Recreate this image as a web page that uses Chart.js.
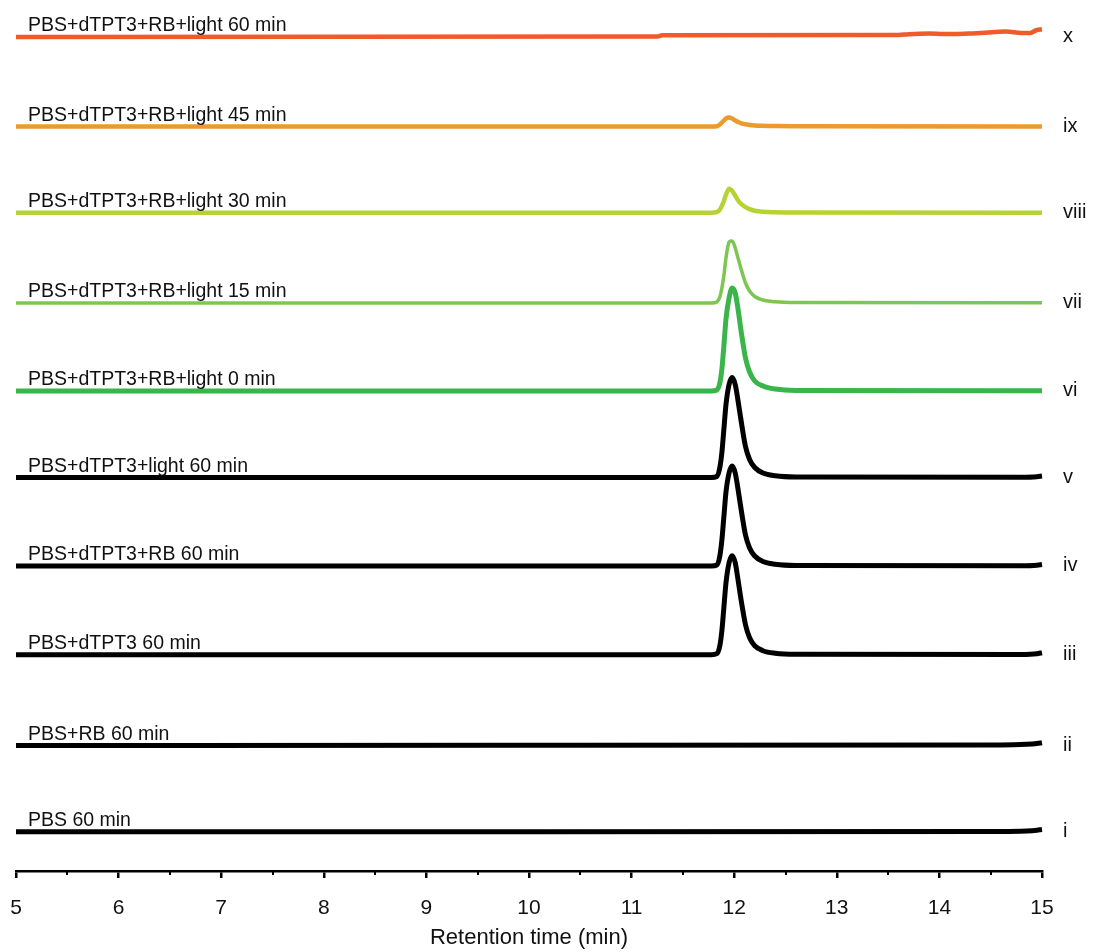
<!DOCTYPE html>
<html>
<head>
<meta charset="utf-8">
<title>Retention time traces</title>
<script src="https://cdn.jsdelivr.net/npm/chart.js@4.4.1/dist/chart.umd.min.js"></script>
<style>
  html, body { margin: 0; padding: 0; background: #fff; }
  #chart { display: block; }
</style>
</head>
<body>
<canvas id="chart" width="1094" height="952"></canvas>
<script>
'use strict';

// retention time grids (min)
var peakTimes = [5.0, 11.78, 11.83, 11.86, 11.88, 11.90, 11.92, 11.95, 11.98, 12.01, 12.04, 12.07, 12.11, 12.15, 12.20, 12.28, 12.40, 12.60, 14.80, 14.95, 15.0, 15.07];
var flatTimes = [5.0, 10.0, 14.60, 14.85, 14.95, 15.0, 15.07];
var driftTimes = [5.0, 11.25, 11.30, 13.60, 13.70, 13.90, 14.05, 14.15, 14.30, 14.55, 14.65, 14.80, 14.88, 14.95, 15.0];

// detector response above each trace's baseline (null = trace already ended)
var signalI = [0, 0, 0.3, 0.8, 1.5, 2.2, 3];
var signalII = [0, 0.2, 0.5, 1.2, 2, 2.8, 4];
var signalIII = [0, 0, 1, 9, 24, 48, 72, 92, 99, 92, 73, 53, 30, 17, 9, 4, 1.5, 0.5, 0.3, 1, 2, 3.5];
var signalIV = [0, 0, 1, 10, 26, 50, 74, 93, 100, 93, 75, 55, 31, 18, 10, 4.5, 1.8, 0.6, 0.3, 0.8, 1.5, 2.5];
var signalV = [0, 0, 1, 10, 25, 49, 73, 93, 100, 93, 75, 55, 31, 18, 10, 4.5, 1.8, 0.6, 0.3, 0.8, 1.5, 2.5];
var signalVI = [0, 0, 1, 8, 22, 46, 72, 93, 103, 98, 80, 58, 33, 19, 10, 5, 2, 0.6, 0.2, 0.2, 0.3, null];
var signalVII = [0, 0, 1, 6, 15, 28, 45, 61, 62, 55, 44, 33, 20, 12, 6.5, 3, 1.2, 0.4, 0.2, 0.2, 0.2, null];
var signalVIII = [0, 0, 0.5, 3, 7, 12, 18, 24, 22, 17, 12, 8.5, 5.5, 3.5, 2, 1, 0.5, 0.2, 0, 0, 0, null];
var signalIX = [0, 0, 0.3, 2, 4, 6, 8, 9, 8, 6, 4.5, 3.2, 2.2, 1.6, 1.1, 0.7, 0.4, 0.2, 0, 0, 0, null];
var signalX = [0, 0.5, 1.8, 2, 2.8, 3.5, 3, 3, 3.5, 5, 5.5, 4, 4, 7, 7.5];

var traceTimes = [flatTimes, flatTimes, peakTimes, peakTimes, peakTimes, peakTimes, peakTimes, peakTimes, peakTimes, driftTimes];
var traceSignals = [signalI, signalII, signalIII, signalIV, signalV, signalVI, signalVII, signalVIII, signalIX, signalX];

// vertical stacking offset of each trace
var baselines = [39.3, 125.5, 216.3, 305, 393.5, 480, 568, 658.3, 744.5, 834];

var traceNames = [
  'PBS 60 min',
  'PBS+RB 60 min',
  'PBS+dTPT3 60 min',
  'PBS+dTPT3+RB 60 min',
  'PBS+dTPT3+light 60 min',
  'PBS+dTPT3+RB+light 0 min',
  'PBS+dTPT3+RB+light 15 min',
  'PBS+dTPT3+RB+light 30 min',
  'PBS+dTPT3+RB+light 45 min',
  'PBS+dTPT3+RB+light 60 min'
];
var romanLabels = ['i', 'ii', 'iii', 'iv', 'v', 'vi', 'vii', 'viii', 'ix', 'x'];
var xTicks = [5, 6, 7, 8, 9, 10, 11, 12, 13, 14, 15];

var traceColors = ['#000000', '#000000', '#000000', '#000000', '#000000', '#3ab54a', '#7dc652', '#b6d334', '#ec9a30', '#f15a29'];
var lineWidths = [5, 5, 5, 5, 5, 5, 3.5, 4.5, 4.5, 4.5];

var FONT = '"Liberation Sans", Arial, Helvetica, sans-serif';

var datasets = traceSignals.map(function (values, i) {
  var times = traceTimes[i];
  var points = [];
  values.forEach(function (v, k) {
    if (v !== null) points.push({ x: times[k], y: baselines[i] + v });
  });
  return {
    label: romanLabels[i],
    data: points,
    borderColor: traceColors[i],
    borderWidth: lineWidths[i],
    pointRadius: 0,
    fill: false,
    cubicInterpolationMode: 'monotone',
    clip: false
  };
});

// trace captions, roman numerals and half-minute ticks
var tracePlugin = {
  id: 'traceLabels',
  afterDraw: function (chart) {
    var ctx = chart.ctx;
    var area = chart.chartArea;
    var xs = chart.scales.x;
    var ys = chart.scales.y;
    ctx.save();
    ctx.fillStyle = '#111';
    ctx.textBaseline = 'alphabetic';
    ctx.textAlign = 'left';
    baselines.forEach(function (b, i) {
      var y = ys.getPixelForValue(b);
      ctx.font = '19.5px ' + FONT;
      ctx.fillText(traceNames[i], xs.getPixelForValue(5) + 12, y - 6);
      ctx.font = '20px ' + FONT;
      ctx.fillText(romanLabels[i], area.right + 21, y + 5);
    });
    ctx.strokeStyle = '#000';
    ctx.lineWidth = 2;
    for (var k = 0; k < xTicks.length - 1; k++) {
      var px = Math.round(xs.getPixelForValue(xTicks[k] + 0.5));
      ctx.beginPath();
      ctx.moveTo(px, area.bottom);
      ctx.lineTo(px, area.bottom + 4);
      ctx.stroke();
    }
    ctx.restore();
  }
};

new Chart(document.getElementById('chart'), {
  type: 'line',
  data: { datasets: datasets },
  plugins: [tracePlugin],
  options: {
    responsive: false,
    animation: false,
    devicePixelRatio: 1,
    layout: { padding: { left: 16, right: 52, top: 0, bottom: 0 } },
    plugins: { legend: { display: false }, tooltip: { enabled: false } },
    scales: {
      x: {
        type: 'linear',
        min: 5,
        max: 15,
        afterFit: function (scale) {
          scale.height = 81;
          scale.paddingLeft = 0;
          scale.paddingRight = 0;
        },
        afterBuildTicks: function (scale) {
          scale.ticks = xTicks.map(function (v) { return { value: v }; });
        },
        grid: { display: true, drawOnChartArea: false, drawTicks: true, tickLength: 7, color: '#000', lineWidth: 2.5 },
        border: { display: true, color: '#000', width: 2.5 },
        ticks: { color: '#111', font: { family: FONT, size: 21 }, padding: 18, maxRotation: 0, autoSkip: false },
        title: { display: true, text: 'Retention time (min)', color: '#111', font: { family: FONT, size: 22 }, padding: { top: 0, bottom: 1 } }
      },
      y: { type: 'linear', display: false, min: 0, max: 871 }
    }
  }
});
</script>
</body>
</html>
